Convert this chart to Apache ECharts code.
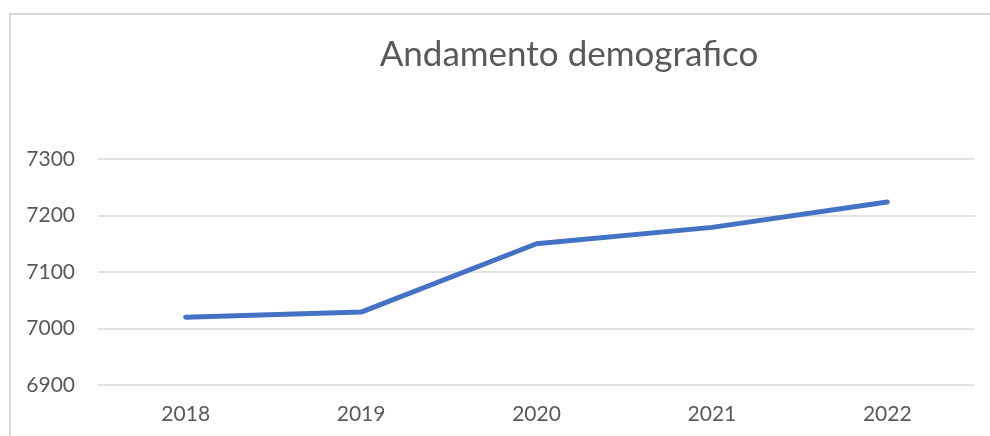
<!DOCTYPE html>
<html>
<head>
<meta charset="utf-8">
<script src="https://cdn.jsdelivr.net/npm/echarts@6/dist/echarts.min.js"></script>
<style>html,body{margin:0;padding:0;background:#fff}#c{width:990px;height:436px}</style>
</head>
<body>
<div id="c"></div>
<script>
const titleText = 'Andamento demografico';
const categories = ['2018', '2019', '2020', '2021', '2022'];
const values = [7020, 7029, 7150, 7179, 7224];
const yMin = 6900, yMax = 7300, yStep = 100;

const chart = echarts.init(document.getElementById('c'), null, {renderer: 'canvas'});
chart.setOption({
  animation: false,
  backgroundColor: '#ffffff',
  title: {
    text: titleText, left: 564, top: 32, textAlign: 'center',
    textStyle: {fontFamily: 'Lato', fontSize: 35, fontWeight: 'normal', color: '#595959'}
  },
  graphic: [{
    type: 'rect', shape: {x: 10, y: 14, width: 1000, height: 500},
    style: {fill: 'none', stroke: '#d9d9d9', lineWidth: 2}, silent: true, z: -1
  }],
  grid: {left: 98, right: 15, top: 159, bottom: 51, containLabel: false},
  xAxis: {
    type: 'category', data: categories, boundaryGap: true,
    axisLine: {show: false}, axisTick: {show: false},
    axisLabel: {fontFamily: 'Lato', fontSize: 21, color: '#595959', margin: 19}
  },
  yAxis: {
    type: 'value', min: yMin, max: yMax, interval: yStep,
    axisLine: {show: false}, axisTick: {show: false},
    splitLine: {lineStyle: {color: '#d9d9d9', width: 1.5}},
    axisLabel: {fontFamily: 'Lato', fontSize: 21, color: '#595959', margin: 23,
      formatter: function (v) { return String(v); }}
  },
  series: [{
    type: 'line', data: values, showSymbol: false, symbol: 'none',
    lineStyle: {color: '#4472C4', width: 5, cap: 'round', join: 'round'}
  }]
});
</script>
</body>
</html>
